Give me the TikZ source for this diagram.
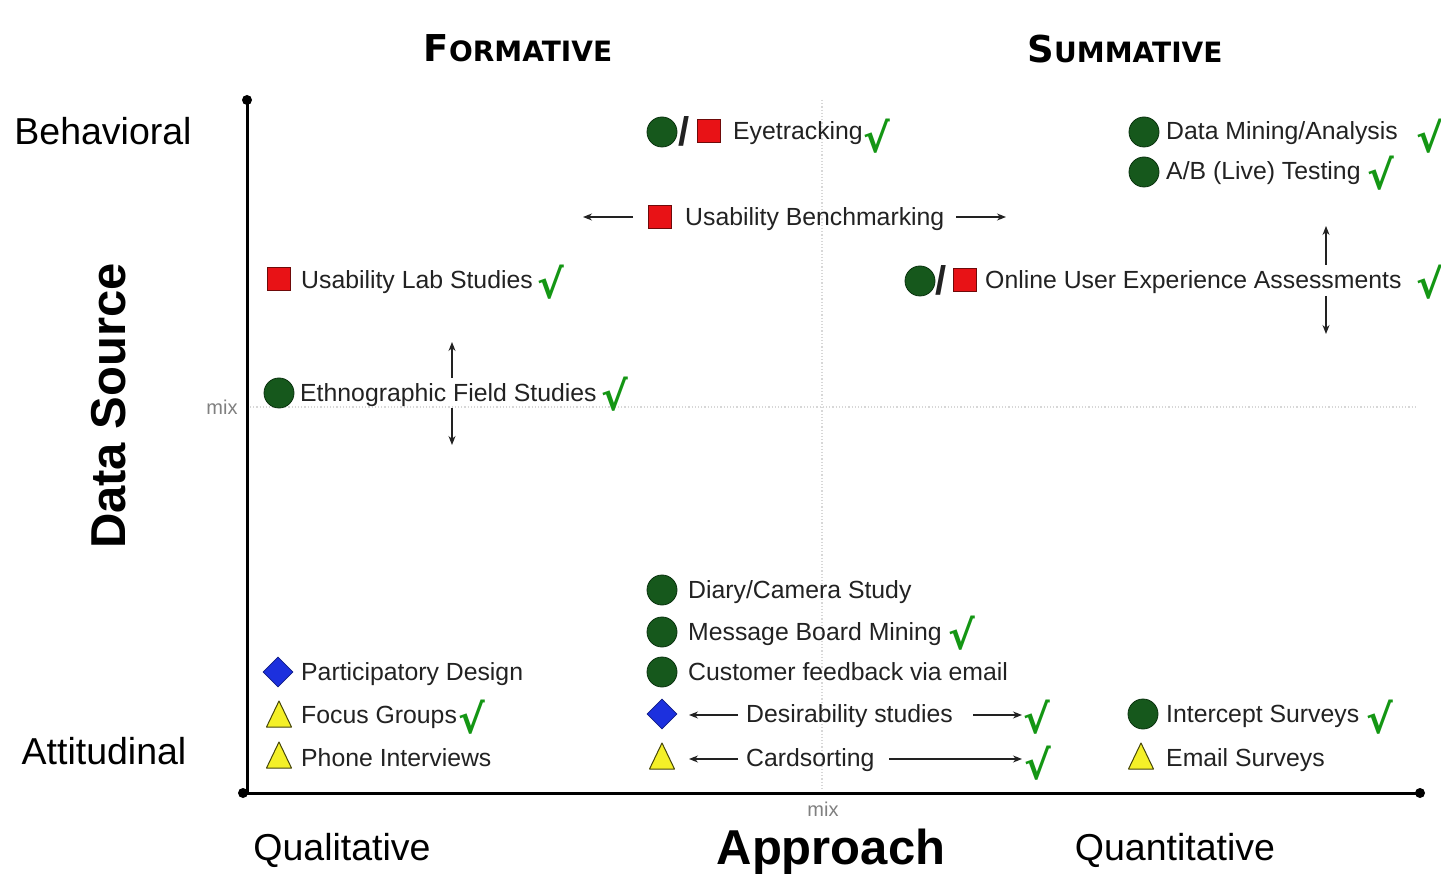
\documentclass[tikz,border=0pt]{standalone}
\usepackage{fontspec}
\setmainfont{Liberation Sans}
\newfontfamily\headfont{DejaVu Sans}
\newfontfamily\chkfont{DejaVu Sans}
\usetikzlibrary{shapes.geometric,arrows.meta}
\definecolor{dgreen}{RGB}{22,88,28}
\definecolor{dgreenb}{RGB}{10,50,15}
\definecolor{mred}{RGB}{232,18,22}
\definecolor{mredb}{RGB}{110,10,10}
\definecolor{mblue}{RGB}{28,48,222}
\definecolor{myellow}{RGB}{244,240,40}
\definecolor{myellowb}{RGB}{70,70,10}
\definecolor{chk}{RGB}{20,150,20}
\definecolor{txt}{RGB}{34,34,34}
\definecolor{gridc}{RGB}{215,215,215}
\newcommand\ytrian[2]{%
  \node[inner sep=0pt, minimum size=26pt] (#1) at (#2) {};
  \filldraw[fill=myellow, draw=myellowb, line width=1pt, line join=round]
    (#1.center) ++(0,-13) -- ++(12.5,26) -- ++(-25,0) -- cycle;}
\begin{document}
\begin{tikzpicture}[x=1pt,y=-1pt,
  item/.style={anchor=west, inner sep=0pt, text=txt, font=\fontsize{24.8}{28}\selectfont, text height=21pt, text depth=4pt},
  gcirc/.style={circle, fill=dgreen, draw=dgreenb, line width=0.8pt, minimum size=30pt, inner sep=0pt},
  rsq/.style={rectangle, fill=mred, draw=mredb, line width=0.8pt, minimum size=23pt, inner sep=0pt},
  bdia/.style={diamond, fill=mblue, draw=mblue!60!black, line width=0.6pt, minimum size=30pt, inner sep=0pt},
  slash/.style={inner sep=0pt, text=txt, font=\fontsize{40}{40}\selectfont\bfseries},
  chkm/.style={inner sep=0pt, text=chk, font=\chkfont\bfseries\fontsize{40}{40}\selectfont},
  arr/.style={-{Stealth[length=9pt,width=7pt]}, line width=1.2pt, draw=txt},
  ax/.style={line width=3pt, draw=black},
  mixl/.style={inner sep=0pt, text=gray, font=\fontsize{20}{20}\selectfont},
  big/.style={inner sep=0pt, text=black, font=\fontsize{37.5}{37.5}\selectfont},
  bigb/.style={inner sep=0pt, text=black, font=\fontsize{49}{49}\selectfont\bfseries},
  head/.style={inner sep=0pt, text=black, font=\headfont\bfseries}
]
\useasboundingbox (0,0) rectangle (1441,874);
\fill[white] (0,0) rectangle (1441,874);

% faint grid
\draw[gridc, line width=1.2pt, dotted] (822,100) -- (822,790);
\draw[gridc, line width=1.2pt, dotted] (250,407) -- (1415,407);

% axes
\coordinate (ytop) at (247,100);
\coordinate (orig) at (247,793);
\coordinate (xend) at (1420,793);
\coordinate (xstart) at (243,793);
\draw[ax] (ytop) -- (orig);
\draw[ax] (xstart) -- (xend);
\fill[black] (ytop) circle (5pt);
\fill[black] (xstart) circle (5pt);
\fill[black] (xend) circle (5pt);

% headers
\node[head] (form) at (518,48) {{\fontsize{37}{37}\selectfont F}{\fontsize{28}{28}\selectfont ORMATIVE}};
\node[head] (summ) at (1125,49) {{\fontsize{37}{37}\selectfont S}{\fontsize{28}{28}\selectfont UMMATIVE}};

% axis labels
\node[big] (beh) at (103,131) {Behavioral};
\node[big] (att) at (104,751) {Attitudinal};
\node[bigb, rotate=90] (ds) at (109,406) {Data Source};
\node[big] (qual) at (342,850) {Qualitative};
\node[bigb] (appr) at (831,852) {Approach};
\node[big] (quan) at (1175,850) {Quantitative};
\node[mixl] (mixy) at (222,407) {mix};
\node[mixl] (mixx) at (823,809) {mix};

% Eyetracking
\node[gcirc] (eyc) at (662,132) {};
\node[slash] (eys) at (684,131) {/};
\node[rsq] (eyr) at (709,131) {};
\node[item] (eyt) at (733,131) {Eyetracking};
\node[chkm] (eyk) at (877,136) {√};

% Data Mining
\node[gcirc] (dmc) at (1144,132) {};
\node[item] (dmt) at (1166,131) {Data Mining/Analysis};
\node[chkm] (dmk) at (1430,136) {√};

% A/B testing
\node[gcirc] (abc) at (1144,172) {};
\node[item] (abt) at (1166,171) {A/B (Live) Testing};
\node[chkm] (abk) at (1381,173) {√};

% Usability Benchmarking
\node[rsq] (ubr) at (660,217) {};
\node[item] (ubt) at (685,217) {Usability Benchmarking};
\coordinate (ubl1) at (633,217);
\coordinate (ubl2) at (583,217);
\coordinate (ubr1) at (956,217);
\coordinate (ubr2) at (1006,217);
\draw[arr] (ubl1) -- (ubl2);
\draw[arr] (ubr1) -- (ubr2);

% Usability Lab Studies
\node[rsq] (ulr) at (279,279) {};
\node[item] (ult) at (301,280) {Usability Lab Studies};
\node[chkm] (ulk) at (551,282) {√};

% Online UX Assessments
\node[gcirc] (oxc) at (920,281) {};
\node[slash] (oxs) at (941,280) {/};
\node[rsq] (oxr) at (965,280) {};
\node[item] (oxt) at (985,280) {Online User Experience Assessments};
\node[chkm] (oxk) at (1430,282) {√};
\coordinate (oxu1) at (1326,265);
\coordinate (oxu2) at (1326,226);
\coordinate (oxd1) at (1326,296);
\coordinate (oxd2) at (1326,334);
\draw[arr] (oxu1) -- (oxu2);
\draw[arr] (oxd1) -- (oxd2);

% Ethnographic
\node[gcirc] (etc) at (279,393) {};
\node[item] (ett) at (300,393) {Ethnographic Field Studies};
\node[chkm] (etk) at (615,394) {√};
\coordinate (etu1) at (452,378);
\coordinate (etu2) at (452,342);
\coordinate (etd1) at (452,408);
\coordinate (etd2) at (452,445);
\draw[arr] (etu1) -- (etu2);
\draw[arr] (etd1) -- (etd2);

% Diary
\node[gcirc] (dcc) at (662,590) {};
\node[item] (dct) at (688,590) {Diary/Camera Study};

% Message board
\node[gcirc] (mbc) at (662,632) {};
\node[item] (mbt) at (688,632) {Message Board Mining};
\node[chkm] (mbk) at (962,633) {√};

% Customer feedback
\node[gcirc] (cfc) at (662,672) {};
\node[item] (cft) at (688,672) {Customer feedback via email};

% Desirability
\node[bdia] (dsd) at (662,714) {};
\node[item] (dst) at (746,714) {Desirability studies};
\coordinate (dsl1) at (738,715);
\coordinate (dsl2) at (689,715);
\coordinate (dsr1) at (973,715);
\coordinate (dsr2) at (1022,715);
\draw[arr] (dsl1) -- (dsl2);
\draw[arr] (dsr1) -- (dsr2);
\node[chkm] (dsk) at (1037,717) {√};

% Cardsorting
\ytrian{cst}{662,756}
\node[item] (cstx) at (746,758) {Cardsorting};
\coordinate (csl1) at (738,759);
\coordinate (csl2) at (689,759);
\coordinate (csr1) at (889,759);
\coordinate (csr2) at (1022,759);
\draw[arr] (csl1) -- (csl2);
\draw[arr] (csr1) -- (csr2);
\node[chkm] (csk) at (1038,763) {√};

% Participatory design
\node[bdia] (pdd) at (278,672) {};
\node[item] (pdt) at (301,672) {Participatory Design};

% Focus groups
\ytrian{fgt}{279,714}
\node[item] (fgx) at (301,715) {Focus Groups};
\node[chkm] (fgk) at (472,717) {√};

% Phone interviews
\ytrian{pit}{279,755}
\node[item] (pix) at (301,758) {Phone Interviews};

% Intercept surveys
\node[gcirc] (isc) at (1143,714) {};
\node[item] (ist) at (1166,714) {Intercept Surveys};
\node[chkm] (isk) at (1380,717) {√};

% Email surveys
\ytrian{est}{1141,756}
\node[item] (esx) at (1166,758) {Email Surveys};
\end{tikzpicture}
\end{document}
